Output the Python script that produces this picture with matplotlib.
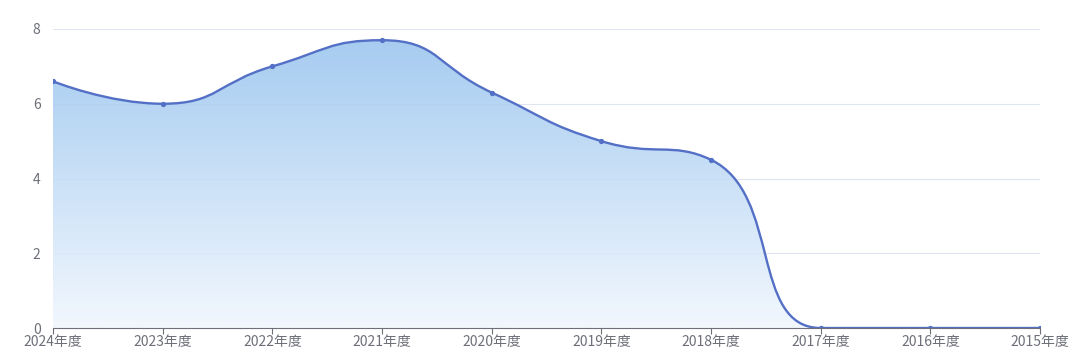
import numpy as np
import matplotlib.pyplot as plt
from matplotlib.path import Path
from matplotlib.patches import PathPatch

plt.rcParams['font.family'] = ['Noto Sans CJK SC', 'DejaVu Sans']

# data
years = ['2024年度', '2023年度', '2022年度', '2021年度', '2020年度',
         '2019年度', '2018年度', '2017年度', '2016年度', '2015年度']
values = [6.6, 6.0, 7.0, 7.7, 6.3, 5.0, 4.5, 0, 0, 0]
yticks = [0, 2, 4, 6, 8]

line_color = '#5470c6'
axis_color = '#6e7079'
grid_color = '#e0e6f1'

fig = plt.figure(figsize=(10.8, 3.64), dpi=100)
ax = fig.add_axes([53 / 1080, 36 / 364, 987 / 1080, 299 / 364])
x = np.arange(len(years))
ax.set_xlim(0, len(years) - 1)
ax.set_ylim(0, 8)


def smooth_path(xs, ys, smooth=0.5):
    # echarts-like bezier smoothing, done in pixel space
    pts = ax.transData.transform(np.column_stack([xs, ys]))
    n = len(pts)
    verts = [pts[0]]
    codes = [Path.MOVETO]
    cp0 = pts[0].copy()
    for i in range(1, n):
        p = pts[i]
        prev = pts[i - 1]
        if i < n - 1:
            nxt = pts[i + 1]
            v = nxt - prev
            l0 = np.hypot(*(p - prev))
            l1 = np.hypot(*(nxt - p))
            r = l1 / (l0 + l1) if (l0 + l1) > 0 else 0.5
            cp1 = p - v * smooth * (1 - r)
            ncp0 = p + v * smooth * r
            # clamp control points between neighbours
            cp1 = np.clip(cp1, np.minimum(prev, p), np.maximum(prev, p))
            ncp0 = np.clip(ncp0, np.minimum(nxt, p), np.maximum(nxt, p))
            # keep tangent direction consistent
            d1 = p - cp1
            d0 = ncp0 - p
            if np.hypot(*d1) > 0 and np.hypot(*d0) > 0:
                s1 = d1[1] / d1[0] if d1[0] != 0 else 0
                s0 = d0[1] / d0[0] if d0[0] != 0 else 0
                s = s1 if abs(s1) < abs(s0) else s0
                cp1 = p - np.array([d1[0], d1[0] * s])
                ncp0 = p + np.array([d0[0], d0[0] * s])
        else:
            cp1 = p.copy()
            ncp0 = p.copy()
        verts += [cp0, cp1, p]
        codes += [Path.CURVE4] * 3
        cp0 = ncp0
    verts = ax.transData.inverted().transform(np.array(verts))
    return verts, codes


verts, codes = smooth_path(x, values)

# gradient area
area_verts = np.vstack([verts, [[x[-1], 0], [x[0], 0], verts[0]]])
area_codes = codes + [Path.LINETO, Path.LINETO, Path.CLOSEPOLY]
area = PathPatch(Path(area_verts, area_codes), facecolor='none', edgecolor='none')
ax.add_patch(area)

top = np.array([150, 195, 238]) / 255
bot = np.array([240, 246, 254]) / 255
ymax = max(values)
t = np.linspace(1, 0, 256)[:, None]
grad = np.zeros((256, 1, 4))
grad[:, 0, :3] = bot + (top - bot) * t
grad[:, 0, 3] = 0.85
img = ax.imshow(grad, extent=[x[0], x[-1], 0, ymax], aspect='auto',
                origin='upper', zorder=2)
img.set_clip_path(area)
ax.set_xlim(0, len(years) - 1)
ax.set_ylim(0, 8)

ax.add_patch(PathPatch(Path(verts, codes), facecolor='none',
                       edgecolor=line_color, lw=1.7, zorder=3))
ax.plot(x, values, 'o', color=line_color, ms=2.8, zorder=4)

for yv in yticks[1:]:
    ax.axhline(yv, color=grid_color, lw=0.8, zorder=1)

for s in ['top', 'right', 'left']:
    ax.spines[s].set_visible(False)
ax.spines['bottom'].set_color(axis_color)
ax.spines['bottom'].set_zorder(5)
ax.set_xticks(x)
ax.set_xticklabels(years)
ax.set_yticks(yticks)
ax.tick_params(axis='x', colors=axis_color, labelcolor=axis_color,
               length=4, width=0.8, labelsize=10, pad=1)
ax.tick_params(axis='y', length=0, labelcolor=axis_color, labelsize=10, pad=9)

fig.savefig('out.png', dpi=100)
